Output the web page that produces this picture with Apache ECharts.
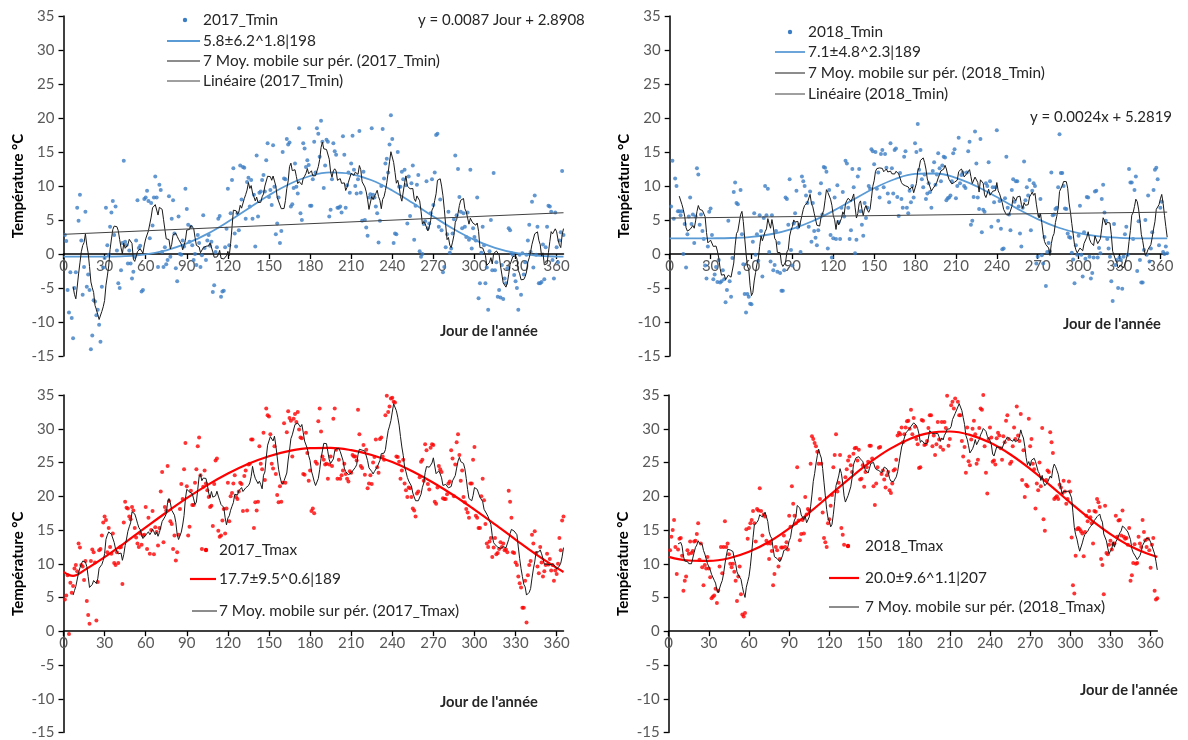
<!DOCTYPE html>
<html><head><meta charset="utf-8">
<script src="https://cdn.jsdelivr.net/npm/echarts@6/dist/echarts.min.js"></script>
<style>html,body{margin:0;padding:0;background:#fff}#c{width:1188px;height:740px}</style>
</head><body><div id="c"></div>
<script>
// ---- daily values (day 1..365) ----
const tmin2017 = [
2.8,1.9,-5.3,-8.6,-2.7,-9.4,-12.4,-5.0,-2.7,6.8,
4.9,8.7,2.0,-6.0,-1.9,6.2,-4.8,-3.0,-5.3,-14.0,
-12.0,-6.8,-7.0,-9.0,-8.2,-10.4,-12.9,-4.8,-2.0,-0.6,
6.8,1.3,-0.1,4.0,6.1,7.8,2.8,7.0,0.5,-4.3,
-5.0,-2.4,1.6,13.7,1.8,1.3,-1.4,0.5,-1.4,-3.6,
-2.6,-0.4,2.0,7.9,0.9,1.2,-5.5,-5.3,8.1,8.3,
9.3,7.8,2.3,7.5,4.2,8.3,11.4,8.3,-1.9,10.2,
9.4,0.3,-1.9,1.0,-1.5,-0.9,8.5,-0.4,5.2,7.9,
3.0,-2.1,-4.0,5.5,0.0,-0.1,2.0,1.1,9.6,6.6,
4.3,1.8,4.0,1.3,-0.9,0.0,-1.6,2.8,1.6,-1.9,
-0.2,5.7,0.9,-0.9,2.0,2.8,1.2,1.8,-5.6,-4.6,
0.3,1.0,5.2,5.6,-6.3,-5.5,-5.4,1.0,3.7,9.6,
1.3,6.0,10.9,12.6,3.0,1.1,6.0,3.5,13.0,8.0,
12.8,12.7,5.2,10.6,11.2,7.0,10.9,5.2,8.7,1.1,
14.5,5.5,9.0,9.2,10.9,11.6,9.2,13.8,16.3,8.4,
9.4,7.2,16.0,9.9,2.9,4.5,8.3,1.6,3.4,15.0,
11.1,11.0,16.9,16.1,16.4,7.0,7.3,9.7,13.3,9.9,
8.9,18.5,6.0,5.0,16.3,15.5,12.8,13.8,13.1,7.1,
7.1,11.0,16.5,12.0,18.5,17.7,14.3,19.6,16.5,9.7,
13.0,16.8,16.5,5.5,6.5,11.0,16.3,15.1,14.6,6.8,
6.8,7.0,6.1,17.3,14.6,6.8,10.1,12.0,9.0,13.3,
17.4,12.4,10.0,8.9,11.0,18.1,9.0,4.9,12.1,5.0,
3.9,2.7,8.3,8.8,18.5,8.7,8.3,7.0,6.0,1.7,
4.9,10.0,18.4,11.1,13.3,14.0,12.0,16.1,20.4,16.9,
1.6,3.0,2.9,15.0,9.9,9.9,12.1,11.0,12.4,10.1,
4.5,11.4,5.6,10.4,13.0,2.1,7.1,10.2,11.6,0.4,
-0.4,0.0,4.4,4.8,10.7,3.8,4.5,6.0,11.0,7.2,
12.0,17.5,17.7,4.0,8.0,3.5,-2.7,-1.9,1.0,2.9,
6.2,0.2,0.8,3.0,5.1,14.5,5.7,12.5,8.4,6.2,
3.8,6.0,4.0,2.5,6.1,2.1,12.4,0.8,3.8,2.5,
2.0,8.3,-6.5,-4.3,0.2,4.0,1.3,-4.3,-2.0,-8.2,
0.4,5.0,-2.4,11.9,-2.4,-1.2,-6.3,-5.3,-6.4,-1.6,
-6.6,-3.6,-4.3,-2.1,3.8,3.5,0.1,-0.1,-3.1,-4.0,
-5.0,-8.2,-0.1,-6.0,0.1,-3.0,-1.2,-0.1,2.0,4.3,
0.3,7.7,-2.0,8.6,-0.1,4.0,-4.3,-4.3,-4.1,1.4,
-3.7,1.0,4.0,7.1,7.0,6.2,-0.9,-3.6,6.1,1.0,
-1.2,2.0,3.2,12.2,2.8];

const tmin2018 = [
7.0,13.7,5.2,11.1,10.0,6.3,6.3,5.7,6.3,0.0,
4.4,-2.0,2.9,5.5,8.3,4.4,5.8,1.6,5.5,12.6,
11.7,4.3,5.8,3.4,2.2,-1.7,-3.6,1.1,6.2,6.7,
2.8,-3.7,-3.0,-1.9,-4.1,-0.9,-4.2,-4.0,-2.4,-3.7,
-7.1,-5.3,4.9,-4.0,-6.3,-0.6,9.1,10.5,7.5,7.3,
-2.8,9.4,2.9,-1.5,-5.9,-8.6,-5.9,-6.3,-7.3,-7.4,
1.8,6.0,-0.1,2.9,-1.0,5.7,3.4,-3.3,5.3,10.0,
5.7,9.6,0.3,-1.1,5.7,-2.4,-1.6,3.4,-2.6,1.6,
-2.8,-5.4,-5.4,-2.4,8.3,8.1,4.3,11.0,0.6,-1.7,
4.5,6.0,9.3,3.9,4.3,0.3,11.4,10.7,10.0,8.6,
7.5,4.0,9.2,1.8,7.5,3.4,2.4,1.3,3.5,8.9,
10.4,5.8,12.8,12.7,12.1,0.8,9.4,2.8,-0.5,2.3,
8.3,2.2,10.1,4.7,2.2,6.8,9.1,5.5,13.7,13.3,
6.8,2.2,3.5,12.5,9.8,0.1,2.1,11.4,12.5,6.3,
4.3,2.7,7.5,5.3,6.8,10.0,9.6,15.4,15.1,13.2,
15.0,9.6,12.0,8.3,14.7,15.3,9.8,14.7,12.7,8.9,
7.6,16.3,12.6,8.9,15.3,15.5,8.4,5.6,11.9,8.1,
6.8,14.3,15.1,6.8,6.0,9.3,7.6,10.0,8.3,16.3,
15.0,19.1,12.4,15.3,11.0,9.8,11.7,8.1,8.9,10.4,
9.1,6.8,12.2,13.5,10.2,11.7,14.8,12.6,10.7,13.0,
14.3,14.2,7.9,8.2,8.3,8.6,10.7,14.8,15.4,8.2,
10.0,17.1,10.4,11.6,12.0,10.0,9.7,12.0,15.1,16.5,
4.3,4.9,8.4,18.0,13.3,8.3,6.6,16.9,3.2,6.5,
6.2,10.4,10.0,13.5,10.7,4.0,9.8,7.6,9.8,18.2,
4.9,7.8,3.7,0.7,0.8,8.2,14.3,6.8,5.8,3.5,
9.4,11.0,7.7,10.7,10.7,7.0,3.0,1.1,6.8,13.6,
7.9,9.8,8.6,10.9,3.5,9.3,10.4,10.0,-1.4,-0.4,
5.7,8.1,-0.2,-1.4,2.5,-4.7,0.3,1.6,0.4,12.0,
5.7,5.8,6.6,6.8,9.8,17.6,11.9,11.9,10.0,6.7,
6.6,3.0,2.5,2.4,0.2,-0.8,-4.3,1.3,-0.1,2.7,
7.1,-0.1,-3.3,3.2,-0.7,8.4,8.3,-0.4,-3.6,-2.8,
-0.5,9.2,9.3,-0.5,0.9,0.1,8.1,10.2,6.1,4.9,
2.2,0.8,-0.4,-4.0,-6.9,4.4,-1.6,-0.9,-5.0,-0.5,
-0.9,-5.1,-0.4,2.9,4.0,-0.1,12.5,10.5,10.5,2.2,
9.4,11.4,-2.5,4.8,-0.9,-4.2,-4.2,0.6,5.0,-0.1,
8.6,-1.1,0.8,3.2,9.4,12.4,12.7,11.0,1.3,6.8,
7.7,0.3,0.0,1.1,0.1];

const tmax2017 = [
4.7,5.3,8.3,-0.4,7.2,5.7,6.7,9.3,9.8,8.9,
13.0,12.4,9.8,9.6,7.6,10.4,4.5,2.4,1.1,10.4,
12.1,11.7,10.2,1.6,7.3,12.0,12.2,14.2,16.1,17.0,
16.5,11.7,15.3,12.5,11.5,14.5,10.1,9.8,11.7,10.1,
12.4,12.5,7.0,16.1,19.2,18.3,18.2,17.0,16.6,18.4,
17.9,15.3,13.9,13.0,12.5,14.5,12.8,14.2,14.3,18.4,
12.2,16.8,11.5,15.0,17.8,11.4,15.4,14.7,12.7,15.3,
20.7,23.6,13.2,18.4,17.9,24.5,19.3,16.3,15.9,12.2,
14.2,10.5,11.7,14.3,18.1,21.8,19.6,24.0,27.9,21.5,
14.2,15.5,20.8,18.7,18.7,22.0,24.0,27.4,28.7,23.1,
12.2,21.4,23.8,21.9,20.9,19.9,18.4,18.6,15.6,21.8,
25.3,25.6,14.9,14.0,14.2,16.4,18.1,14.5,18.2,22.0,
16.3,20.0,20.5,21.9,23.1,19.9,19.6,20.7,22.0,21.8,
17.8,23.0,23.8,17.9,24.7,24.8,28.4,28.4,15.3,19.1,
17.9,19.2,27.4,24.8,24.0,29.4,22.4,33.0,32.0,31.8,
29.2,24.8,24.1,27.4,23.3,20.2,19.1,21.5,19.2,22.0,
30.8,22.0,29.5,32.6,31.6,31.2,25.9,31.5,32.2,31.0,
32.5,29.9,28.7,28.6,23.3,23.2,29.4,26.4,22.3,23.8,
17.8,18.2,17.5,25.1,24.8,31.1,33.0,29.6,25.9,25.4,
24.7,24.8,22.6,24.7,25.9,24.5,31.5,33.0,26.9,22.6,
25.4,22.6,23.1,23.8,24.8,23.3,22.6,22.2,23.7,23.5,
26.1,25.9,25.9,25.3,32.8,29.2,24.5,24.2,27.6,23.2,
26.9,21.2,21.9,23.1,21.8,25.0,25.8,28.4,24.3,23.5,
28.5,28.7,25.9,25.4,32.0,34.9,32.5,33.3,34.5,34.6,
34.0,33.9,25.9,25.8,25.1,22.6,23.8,25.4,21.9,20.9,
19.9,21.3,21.2,19.9,18.2,17.9,17.0,20.4,20.7,22.8,
25.1,25.4,22.3,27.7,26.8,21.8,21.0,27.2,27.7,27.6,
19.2,18.9,21.3,24.5,24.0,23.6,19.7,19.6,19.6,20.3,
21.9,22.2,26.8,25.6,20.0,24.7,28.0,29.2,26.1,22.3,
23.8,19.9,19.1,18.1,17.6,16.8,21.9,21.9,25.4,27.3,
17.1,16.8,15.3,15.3,20.0,22.6,19.4,15.9,13.0,12.5,
13.3,13.8,11.0,12.4,13.8,11.4,11.6,12.2,13.2,12.5,
13.0,12.0,12.1,11.7,20.8,19.2,16.8,11.7,11.6,10.2,
9.8,8.1,7.1,6.5,3.5,3.5,7.5,1.3,8.3,9.8,
10.4,14.3,13.0,14.8,11.6,9.6,8.6,12.5,10.2,8.1,
8.9,9.8,11.5,9.9,10.7,9.0,9.8,7.5,9.0,8.5,
10.0,13.8,12.0,16.4,17.0];

const tmax2018 = [
12.0,14.0,15.0,16.5,12.5,8.5,12.1,13.7,13.8,11.2,
6.0,7.5,8.1,12.0,11.5,13.3,11.6,11.9,13.3,13.4,
14.4,16.0,10.6,13.0,9.5,6.8,9.8,9.3,11.0,9.3,
8.0,4.9,5.1,5.3,6.3,4.2,6.0,9.6,12.5,8.6,
12.5,16.3,12.5,13.0,11.4,10.0,9.5,10.0,8.8,7.5,
4.5,8.1,9.6,5.5,2.5,2.2,2.7,15.1,13.7,15.3,
16.0,16.5,17.8,16.0,13.3,18.1,17.9,21.2,17.8,14.2,
17.3,17.0,13.4,13.0,10.7,13.0,11.9,6.8,8.5,12.5,
12.0,9.6,10.7,12.4,12.4,14.2,12.5,13.2,12.1,17.1,
15.5,21.5,18.9,17.1,16.0,24.3,16.4,13.5,14.4,16.5,
14.5,19.9,17.3,18.1,17.9,24.8,28.9,28.5,27.9,27.4,
26.6,24.8,19.6,24.8,17.6,13.8,13.2,12.5,16.0,16.6,
18.6,20.2,24.3,26.1,29.2,20.7,22.0,26.1,15.3,14.3,
12.8,22.8,24.0,25.3,25.9,24.6,23.6,26.3,27.1,27.2,
25.3,26.9,22.5,22.6,24.6,21.4,23.6,24.3,25.1,27.5,
27.5,25.6,21.5,18.7,21.9,24.3,27.2,27.3,23.3,23.8,
22.5,21.3,23.1,23.6,20.9,20.5,21.9,23.8,24.0,25.4,
29.0,29.4,29.2,30.2,28.0,29.2,30.2,31.1,31.2,30.0,
32.8,29.2,31.6,30.3,28.5,27.7,24.2,24.3,31.3,31.2,
27.6,27.7,28.2,30.1,32.0,32.0,27.4,29.0,26.1,27.7,
31.0,28.4,27.3,31.0,26.9,31.0,30.1,34.9,27.5,28.5,
33.5,34.0,33.0,34.5,35.1,34.0,32.0,32.0,28.2,25.9,
27.3,23.5,30.2,25.2,24.6,28.4,30.0,31.2,29.2,24.8,
25.4,30.1,33.0,32.8,35.0,27.4,23.5,20.4,28.5,30.2,
28.7,25.1,25.3,24.7,28.6,29.4,29.0,27.1,25.4,28.9,
28.0,31.2,32.0,28.5,24.8,25.1,27.4,30.2,28.5,33.3,
29.0,28.2,32.2,22.4,26.8,19.9,21.7,21.5,31.5,27.4,
28.5,24.8,24.0,18.2,21.9,20.9,25.0,21.5,30.1,16.6,
14.9,22.4,23.8,23.6,29.5,28.0,26.4,19.6,19.8,20.0,
19.6,21.7,21.3,20.4,22.3,20.7,18.9,19.6,22.2,20.7,
13.9,6.8,5.6,11.2,15.1,15.3,15.1,14.8,14.5,11.1,
14.7,17.1,16.3,17.8,16.9,16.0,13.0,17.8,17.7,19.6,
19.1,18.4,10.7,9.8,5.5,18.6,11.6,11.4,12.8,13.4,
12.1,12.9,13.0,17.1,14.0,16.4,16.5,14.2,17.9,14.0,
13.7,13.8,12.8,15.3,7.5,8.3,10.1,12.9,10.0,10.1,
14.0,13.0,12.5,16.5,14.7,13.5,12.5,13.7,12.0,9.4,
12.8,13.8,6.0,4.7,4.9];

// ---- fitted seasonal curves, read at sample days ----
const fitDays = [0,15,30,45,60,75,90,105,120,135,150,165,180,195,210,225,240,255,270,285,300,315,330,345,360,365];
const fitDaysTmax2017 = [0,7,15,30,45,60,75,90,105,120,135,150,165,180,195,210,225,240,255,270,285,300,315,330,345,360,365];
const fitTmin2017 = [-0.39,-0.40,-0.39,-0.31,-0.04,0.55,1.55,2.96,4.74,6.70,8.64,10.30,11.47,11.99,11.76,10.84,9.35,7.49,5.51,3.64,2.07,0.90,0.15,-0.24,-0.38,-0.39];
const fitTmin2018 = [2.30,2.30,2.31,2.35,2.53,2.94,3.70,4.85,6.34,8.03,9.67,10.99,11.77,11.84,11.20,9.97,8.37,6.67,5.13,3.90,3.07,2.59,2.38,2.31,2.30,2.30];
const fitTmax2017 = [8.79,8.20,9.02,10.97,13.14,15.38,17.59,19.71,21.65,23.36,24.81,25.93,26.72,27.13,27.17,26.83,26.12,25.06,23.68,22.01,20.11,18.02,15.83,13.58,11.39,9.38,8.79];
const fitTmax2018 = [11.02,10.48,10.42,10.82,11.77,13.26,15.24,17.56,20.08,22.61,24.97,26.98,28.48,29.38,29.59,29.10,27.95,26.22,24.06,21.61,19.05,16.60,14.40,12.60,11.32,11.01];

// ---- linear trend coefficients [slope, intercept] as printed ----
const trendTmin2017 = [0.0087, 2.8908];
const trendTmin2018 = [0.0024, 5.2819];

const xTicks = [0,30,60,90,120,150,180,210,240,270,300,330,360];

// ---- helpers ----
const pts = arr => arr.map((v, i) => [i + 1, v]);
const pairs = (xs, ys) => xs.map((x, i) => [x, ys[i]]);
function movingAvg(arr, n) {
  const out = [];
  for (let i = n - 1; i < arr.length; i++) {
    let s = 0; for (let k = i - n + 1; k <= i; k++) s += arr[k];
    out.push([i + 1, +(s / n).toFixed(2)]);
  }
  return out;
}
const trendLine = c => [[0, c[1]], [365, c[0] * 365 + c[1]]];

const FONT = 'Lato, "Liberation Sans", sans-serif';
const YMIN = -15, YMAX = 35;
const grids = [
  {left: 63.5, top: 16, width: 500, height: 340},
  {left: 669.7, top: 16, width: 497.5, height: 340},
  {left: 63.5, top: 395, width: 500, height: 338},
  {left: 668.7, top: 395, width: 488.6, height: 338}
];
// x axis drawn along the zero line (as in the original): shift from the bottom edge
const xAxes = grids.map((g, i) => ({
  gridIndex: i, type: 'value', min: 0, max: 365, position: 'bottom',
  offset: -g.height * (0 - YMIN) / (YMAX - YMIN),
  axisLine: {onZero: false, lineStyle: {color: '#000', width: 1.5}},
  axisTick: {show: true, customValues: xTicks, length: 5, lineStyle: {color: '#000', width: 1.3}},
  axisLabel: {customValues: xTicks, color: '#595959', fontSize: 15, fontFamily: FONT, margin: 5},
  splitLine: {show: false}
}));
const yAxes = grids.map((g, i) => ({
  gridIndex: i, type: 'value', min: YMIN, max: YMAX, interval: 5,
  axisLine: {show: true, onZero: false, lineStyle: {color: '#000', width: 1.5}},
  axisTick: {show: true, length: 5, lineStyle: {color: '#000', width: 1.3}},
  axisLabel: {color: '#595959', fontSize: 15, fontFamily: FONT, margin: 9},
  splitLine: {show: false},
  name: 'Température °C', nameLocation: 'middle', nameGap: 38,
  nameTextStyle: {fontWeight: 'bold', fontSize: 15, color: '#000', fontFamily: FONT}
}));

const BLUE_DOT = '#3b7dc4', BLUE_LINE = '#5b9bd5', RED = '#ff0000';
function scatter(i, name, arr, color) {
  return {name, type: 'scatter', xAxisIndex: i, yAxisIndex: i, data: pts(arr),
    symbolSize: 4, itemStyle: {color}, z: 2};
}
function fitLine(i, name, days, vals, color, w) {
  return {name, type: 'line', xAxisIndex: i, yAxisIndex: i, data: pairs(days, vals),
    smooth: 0.4, symbol: 'none', lineStyle: {color, width: w}, z: 3};
}
function maLine(i, name, arr) {
  return {name, type: 'line', xAxisIndex: i, yAxisIndex: i, data: movingAvg(arr, 7),
    symbol: 'none', lineStyle: {color: '#1a1a1a', width: 1}, z: 4};
}
function linLine(i, name, c) {
  return {name, type: 'line', xAxisIndex: i, yAxisIndex: i, data: trendLine(c),
    symbol: 'none', lineStyle: {color: '#404040', width: 1}, z: 4};
}

const series = [
  scatter(0, '2017_Tmin', tmin2017, BLUE_DOT),
  fitLine(0, '5.8±6.2^1.8|198', fitDays, fitTmin2017, BLUE_LINE, 1.8),
  maLine(0, '7 Moy. mobile sur pér. (2017_Tmin)', tmin2017),
  linLine(0, 'Linéaire (2017_Tmin)', trendTmin2017),
  scatter(1, '2018_Tmin', tmin2018, BLUE_DOT),
  fitLine(1, '7.1±4.8^2.3|189', fitDays, fitTmin2018, BLUE_LINE, 1.8),
  maLine(1, '7 Moy. mobile sur pér. (2018_Tmin)', tmin2018),
  linLine(1, 'Linéaire (2018_Tmin)', trendTmin2018),
  scatter(2, '2017_Tmax', tmax2017, RED),
  fitLine(2, '17.7±9.5^0.6|189', fitDaysTmax2017, fitTmax2017, RED, 2.2),
  maLine(2, '7 Moy. mobile sur pér. (2017_Tmax)', tmax2017),
  scatter(3, '2018_Tmax', tmax2018, RED),
  fitLine(3, '20.0±9.6^1.1|207', fitDays, fitTmax2018, RED, 2.2),
  maLine(3, '7 Moy. mobile sur pér. (2018_Tmax)', tmax2018)
];

// ---- legends / annotations as graphic elements ----
const TXT = '#262626';
const txt = (x, y, s, font) => ({type: 'text', x, y, z: 10,
  style: {text: s, fill: TXT, font: (font || '15.4px') + ' ' + FONT, verticalAlign: 'middle', align: 'left'}});
const dot = (x, y, c) => ({type: 'circle', z: 10, shape: {cx: x, cy: y, r: 2.2}, style: {fill: c}});
const seg = (x1, x2, y, c, w) => ({type: 'line', z: 10, shape: {x1, y1: y, x2, y2: y}, style: {stroke: c, lineWidth: w}});
const TITLE = 'bold 14.7px';

const graphic = [
  // top-left legend
  dot(185, 20, BLUE_DOT), txt(203, 20, '2017_Tmin'),
  seg(167, 200, 41, BLUE_LINE, 1.8), txt(203, 41, '5.8±6.2^1.8|198'),
  seg(167, 200, 61, '#1a1a1a', 1), txt(203, 61, '7 Moy. mobile sur pér. (2017_Tmin)'),
  seg(167, 200, 81, '#404040', 1), txt(203, 81, 'Linéaire (2017_Tmin)'),
  txt(418, 20, 'y = 0.0087 Jour + 2.8908', '15px'),
  txt(440, 331, "Jour de l'année", TITLE),
  // top-right legend
  dot(790, 32, BLUE_DOT), txt(808, 32, '2018_Tmin'),
  seg(775, 805, 52, BLUE_LINE, 1.8), txt(808, 52, '7.1±4.8^2.3|189'),
  seg(775, 805, 73, '#1a1a1a', 1), txt(808, 73, '7 Moy. mobile sur pér. (2018_Tmin)'),
  seg(775, 805, 94, '#404040', 1), txt(808, 94, 'Linéaire (2018_Tmin)'),
  txt(1030, 117, 'y = 0.0024x + 5.2819', '15px'),
  txt(1063, 324, "Jour de l'année", TITLE),
  // bottom-left legend
  dot(206, 550, RED), txt(219, 550, '2017_Tmax'),
  seg(190, 216, 579, RED, 2.2), txt(219, 579, '17.7±9.5^0.6|189'),
  seg(192, 217, 611, '#1a1a1a', 1), txt(219, 611, '7 Moy. mobile sur pér. (2017_Tmax)'),
  txt(440, 702, "Jour de l'année", TITLE),
  // bottom-right legend
  dot(848, 546, RED), txt(865, 546, '2018_Tmax'),
  seg(829, 859, 578, RED, 2.2), txt(865, 578, '20.0±9.6^1.1|207'),
  seg(829, 859, 607, '#1a1a1a', 1), txt(865, 607, '7 Moy. mobile sur pér. (2018_Tmax)'),
  txt(1080, 690, "Jour de l'année", TITLE)
];

const chart = echarts.init(document.getElementById('c'), null, {renderer: 'canvas'});
chart.setOption({
  animation: false,
  backgroundColor: '#fff',
  textStyle: {fontFamily: FONT},
  grid: grids,
  xAxis: xAxes,
  yAxis: yAxes,
  series,
  graphic
});
</script>
</body></html>
